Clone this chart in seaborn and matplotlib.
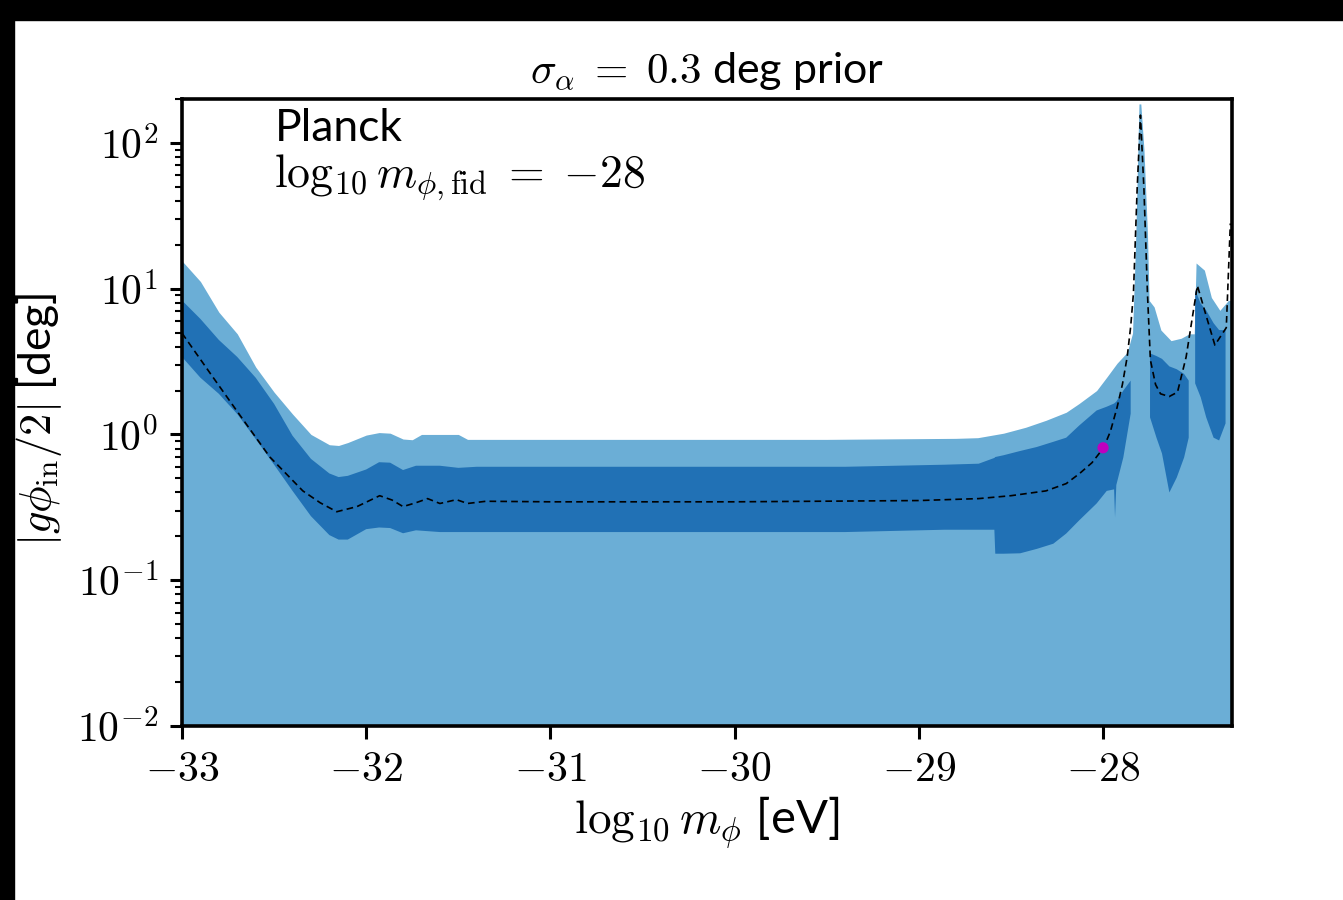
import numpy as np
import matplotlib
matplotlib.use("Agg")
import matplotlib.pyplot as plt
import seaborn as sns
from matplotlib.patches import Rectangle

# ---------------- data ----------------
# 95% region upper edge (light band, filled down to the axis floor)
x_light = [-33.0, -32.9, -32.8, -32.7, -32.6, -32.5, -32.4, -32.3, -32.2, -32.15,
           -32.1, -32.0, -31.93, -31.87, -31.8, -31.75, -31.7, -31.6, -31.5, -31.45,
           -29.5, -28.8, -28.68, -28.54, -28.42, -28.31, -28.2, -28.13, -28.035, -27.98,
           -27.924, -27.869, -27.84, -27.824, -27.805, -27.795, -27.778, -27.759, -27.75,
           -27.723, -27.686, -27.631, -27.576, -27.532, -27.505, -27.495, -27.45, -27.412,
           -27.366, -27.32, -27.30]
upper95 = [15.5, 11.2, 6.9, 4.9, 2.9, 1.95, 1.38, 1.0, 0.85, 0.84,
           0.88, 0.99, 1.03, 1.02, 0.93, 0.92, 1.0, 1.0, 1.0, 0.925,
           0.925, 0.94, 0.95, 1.02, 1.12, 1.25, 1.42, 1.63, 2.0, 2.47,
           3.08, 3.66, 4.95, 19.3, 185.0, 185.0, 90.0, 24.0, 8.3,
           7.5, 5.2, 4.4, 4.57, 4.9, 4.9, 15.0, 13.4, 8.7,
           7.1, 8.3, 8.3]

# 68% region (dark band); NaN = no 68% region there
nan = np.nan
x_dark = [-33.0, -32.9, -32.8, -32.7, -32.6, -32.5, -32.4, -32.3, -32.2, -32.15,
          -32.1, -32.0, -31.93, -31.87, -31.8, -31.73, -31.6, -31.5, -31.4, -29.4,
          -28.86, -28.675, -28.59, -28.585, -28.54, -28.45, -28.36, -28.27, -28.2, -28.13,
          -28.035, -27.98, -27.94, -27.935, -27.928, -27.89, -27.85, -27.845, -27.75, -27.745,
          -27.71, -27.68, -27.64, -27.60, -27.56, -27.535, -27.52, -27.505, -27.50, -27.47,
          -27.44, -27.40, -27.37, -27.335, -27.33]
upper68 = [8.3, 6.2, 4.45, 3.4, 2.45, 1.62, 0.98, 0.68, 0.54, 0.51,
           0.52, 0.575, 0.645, 0.64, 0.57, 0.61, 0.61, 0.59, 0.6, 0.6,
           0.62, 0.63, 0.69, 0.70, 0.72, 0.77, 0.82, 0.89, 0.95, 1.15,
           1.46, 1.55, 1.63, 1.65, 1.68, 2.0, 2.34, nan, nan, 3.6,
           3.45, 3.3, 2.93, 2.8, 2.6, 2.34, nan, nan, 9.8, 7.9,
           7.1, 5.8, 5.2, 5.2, nan]
lower68 = [3.4, 2.45, 1.9, 1.38, 0.93, 0.62, 0.41, 0.275, 0.204, 0.19,
           0.19, 0.224, 0.23, 0.228, 0.21, 0.22, 0.214, 0.214, 0.214, 0.214,
           0.222, 0.222, 0.222, 0.152, 0.152, 0.153, 0.164, 0.178, 0.209, 0.257,
           0.336, 0.41, 0.42, 0.27, 0.45, 0.695, 1.39, nan, nan, 1.31,
           0.95, 0.74, 0.40, 0.506, 0.695, 0.95, nan, nan, 2.24, 1.8,
           1.31, 0.95, 0.91, 1.19, nan]

# fiducial model curve (dashed)
x_model = [-33.0, -32.85, -32.704, -32.523, -32.344, -32.25, -32.16, -32.05, -31.927, -31.86,
           -31.80, -31.73, -31.667, -31.60, -31.51, -31.45, -31.35, -31.0, -30.0, -29.0,
           -28.675, -28.5, -28.31, -28.2, -28.127, -28.06, -27.997, -27.96, -27.924, -27.895,
           -27.869, -27.85, -27.835, -27.815, -27.797, -27.778, -27.759, -27.743, -27.715, -27.688,
           -27.641, -27.596, -27.549, -27.488, -27.44, -27.393, -27.331, -27.309]
y_model = [4.95, 2.66, 1.46, 0.70, 0.41, 0.34, 0.295, 0.32, 0.38, 0.355,
           0.32, 0.34, 0.363, 0.336, 0.357, 0.336, 0.348, 0.345, 0.345, 0.352,
           0.363, 0.38, 0.41, 0.46, 0.54, 0.64, 0.81, 1.05, 1.53, 2.2,
           3.4, 5.5, 9.3, 48.0, 155.0, 48.0, 9.3, 3.24, 2.2, 1.9,
           1.82, 1.95, 3.4, 10.5, 6.5, 4.1, 5.4, 28.0]

x_fid = [-28.0]
y_fid = [0.81]

x_ticks = [-33, -32, -31, -30, -29, -28]
x_ticklabels = [r"$-33$", r"$-32$", r"$-31$", r"$-30$", r"$-29$", r"$-28$"]
y_ticks = [1e-2, 1e-1, 1e0, 1e1, 1e2]
y_ticklabels = [r"$10^{-2}$", r"$10^{-1}$", r"$10^{0}$", r"$10^{1}$", r"$10^{2}$"]

title = r"$\sigma_\alpha \;=\; 0.3$ deg prior"
xlabel = r"$\log_{10} m_\phi$ [eV]"
ylabel = r"$|g\phi_{\rm in}/2|$ [deg]"
text1 = "Planck"
text2 = r"$\log_{10} m_{\phi,{\rm fid}} \;=\; {-28}$"

# ---------------- style ----------------
sns.set_style("ticks")
plt.rcParams["font.family"] = ["Lato", "DejaVu Sans"]
plt.rcParams["mathtext.fontset"] = "cm"
plt.rcParams["text.color"] = "black"
plt.rcParams["axes.labelcolor"] = "black"
plt.rcParams["xtick.color"] = "black"
plt.rcParams["ytick.color"] = "black"
plt.rcParams["axes.edgecolor"] = "black"

light = "#6baed6"
dark = "#2171b5"

fig = plt.figure(figsize=(13.43, 9.0), dpi=100)
ax = fig.add_axes([182 / 1343, 1 - 726 / 900, 1050 / 1343, 627 / 900])

ax.fill_between(x_light, 1e-2, upper95, color=light, lw=0, zorder=1)
ax.fill_between(x_dark, lower68, upper68, color=dark, lw=0, zorder=2)

sns.lineplot(x=x_model, y=y_model, ax=ax, color="black", lw=1.2,
             linestyle=(0, (4, 2.5)), sort=False, zorder=3)
sns.scatterplot(x=x_fid, y=y_fid, ax=ax, color="m", s=65, edgecolor="none", zorder=4)

ax.set_yscale("log")
ax.set_xlim(-33, -27.3)
ax.set_ylim(1e-2, 2e2)
ax.set_xticks(x_ticks)
ax.set_xticklabels(x_ticklabels)
ax.set_yticks(y_ticks)
ax.set_yticklabels(y_ticklabels)
ax.yaxis.set_minor_locator(matplotlib.ticker.LogLocator(base=10, subs=np.arange(2, 10)))
ax.yaxis.set_minor_formatter(matplotlib.ticker.NullFormatter())

ax.tick_params(axis="both", which="major", labelsize=30, length=9, width=2.2,
               direction="out", pad=8, color="black", labelcolor="black")
ax.tick_params(axis="y", which="minor", length=5, width=1.5, color="black")
for s in ax.spines.values():
    s.set_linewidth(2.6)
    s.set_color("black")
    s.set_zorder(5)

ax.set_title(title, fontsize=31, pad=12, color="black")
ax.set_xlabel(xlabel, fontsize=34, color="black")
ax.set_ylabel(ylabel, fontsize=32, color="black")
ax.xaxis.set_label_coords(0.5, -0.11)
ax.yaxis.set_label_coords(-0.112, 0.49)

ax.text(0.088, 0.985, text1, transform=ax.transAxes, fontsize=32, va="top", ha="left",
        color="black")
ax.text(0.088, 0.86, text2, transform=ax.transAxes, fontsize=33, va="baseline", ha="left",
        color="black")

# black frame strips present in the reference image
fig.patches.append(Rectangle((0, 1 - 20 / 900), 1, 20 / 900, transform=fig.transFigure,
                             color="black", zorder=10))
fig.patches.append(Rectangle((0, 0), 14 / 1343, 1, transform=fig.transFigure,
                             color="black", zorder=10))

fig.savefig("out.png", dpi=100, facecolor="white")
